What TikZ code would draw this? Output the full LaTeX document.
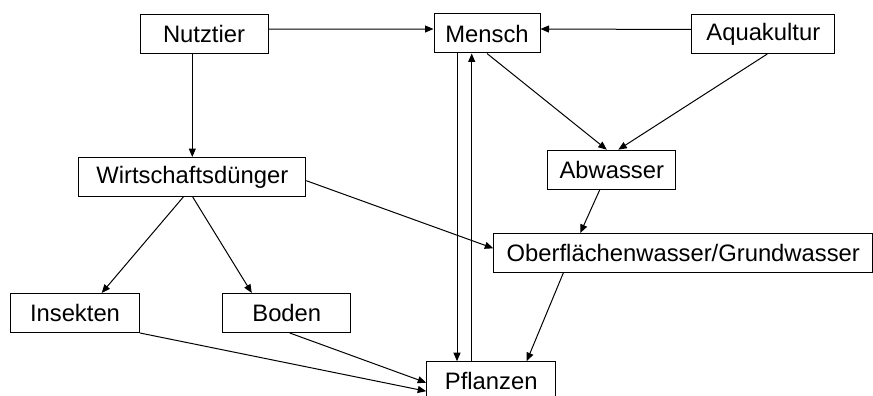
\documentclass[tikz,border=0pt]{standalone}
\usepackage{fontspec}
\setmainfont{Liberation Sans}
\usetikzlibrary{arrows.meta}

\begin{document}
\begin{tikzpicture}[
    x=1pt, y=-1pt,
    box/.style={
        draw,
        line width=1pt,
        minimum height=39pt,
        inner sep=0pt,
        align=center,
        font=\fontsize{23.8}{28}\selectfont
    },
    arrow/.style={-{Triangle[length=8.5pt,width=7pt]}, line width=1pt}
]
\useasboundingbox (0,0) rectangle (873,396);

% Reihe 0: Quellen
\node[box, minimum width=128pt] (nutztier) at (204, 33.7) {Nutztier};
\node[box, minimum width=106pt] (mensch) at (487, 33.5) {Mensch};
\node[box, minimum width=143pt] (aquakultur) at (763.3, 34) {Aquakultur};

% Reihe 1
\node[box, minimum width=227pt] (duenger) at (192.3, 177) {Wirtschaftsdünger};
\node[box, minimum width=128pt] (abwasser) at (611.8, 169.7) {Abwasser};

% Reihe 2
\node[box, minimum width=379pt] (wasser) at (683.3, 253) {Oberflächenwasser/Grundwasser};
\node[box, minimum width=129pt] (insekten) at (75, 313) {Insekten};
\node[box, minimum width=128pt] (boden) at (286.8, 313) {Boden};

% Reihe 3
\node[box, minimum width=129pt] (pflanzen) at (491.2, 381.2) {Pflanzen};

% === PFEILE ===

% Oben: nach Mensch
\draw[arrow] ([yshift=4.5pt]nutztier.east) -- ([yshift=4.5pt]mensch.west);
\draw[arrow] ([yshift=4.5pt]aquakultur.west) -- ([yshift=4.5pt]mensch.east);

% Nutztier -> Wirtschaftsduenger
\draw[arrow] (duenger.north |- nutztier.south) -- (duenger.north);

% Mensch <-> Pflanzen
\draw[arrow] ([xshift=-30pt]mensch.south) -- ([xshift=-30pt]mensch.south |- pflanzen.north);
\draw[arrow] ([xshift=-15.3pt]mensch.south |- pflanzen.north) -- ([xshift=-15.3pt]mensch.south);

% Abwasser
\draw[arrow] (mensch.south) -- ([xshift=-5pt]abwasser.north);
\draw[arrow] ([xshift=4pt]aquakultur.south) -- ([xshift=6.5pt]abwasser.north);
\draw[arrow] ([xshift=-12pt]abwasser.south) -- ([xshift=-103pt]wasser.north);

% Wirtschaftsduenger verteilt
\draw[arrow] ([xshift=-9pt]duenger.south) -- ([xshift=26.7pt]insekten.north);
\draw[arrow] ([xshift=0.4pt]duenger.south) -- ([xshift=-35pt]boden.north);
\draw[arrow] ([yshift=-3.7pt]duenger.east) -- ([yshift=4.7pt]wasser.west);

% Zu Pflanzen
\draw[arrow] (insekten.south east) -- ([yshift=-10pt]pflanzen.west);
\draw[arrow] ([xshift=3pt]boden.south) -- ([yshift=-1.5pt]pflanzen.west);
\draw[arrow] ([xshift=-120pt]wasser.south) -- ([xshift=35.5pt]pflanzen.north);

\end{tikzpicture}
\end{document}
